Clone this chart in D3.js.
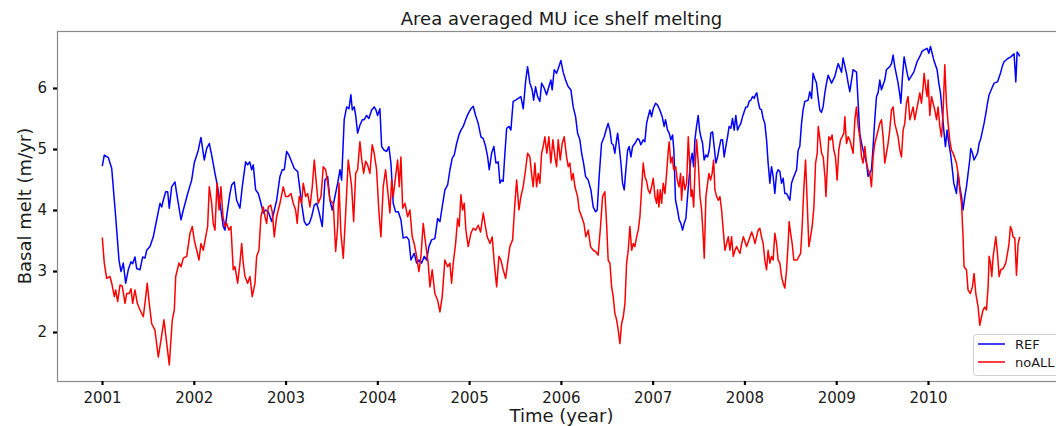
<!DOCTYPE html>
<html>
<head>
<meta charset="utf-8">
<script src="https://cdn.jsdelivr.net/npm/d3@7"></script>
<style>
  body { margin: 0; background: #fff; }
  text { font-family: "DejaVu Sans", sans-serif; }
</style>
</head>
<body>
<svg id="chart"></svg>
<script>
// Series (decimal year, basal melt in m/yr)
const refYear = [2001.003, 2001.025, 2001.069, 2001.106, 2001.149, 2001.185, 2001.207, 2001.232, 2001.258, 2001.286, 2001.316, 2001.334, 2001.359, 2001.378, 2001.414, 2001.443, 2001.468, 2001.487, 2001.523, 2001.559, 2001.596, 2001.632, 2001.650, 2001.668, 2001.694, 2001.716, 2001.733, 2001.759, 2001.795, 2001.814, 2001.861, 2001.886, 2001.934, 2001.977,
  2002.005, 2002.049, 2002.078, 2002.093, 2002.114, 2002.141, 2002.169, 2002.195, 2002.231, 2002.260, 2002.296, 2002.321, 2002.340, 2002.358, 2002.394, 2002.413, 2002.441, 2002.467, 2002.503, 2002.528, 2002.565, 2002.587, 2002.609, 2002.631, 2002.648, 2002.674, 2002.703, 2002.732, 2002.757, 2002.783, 2002.812, 2002.849, 2002.903, 2002.939, 2002.964, 2002.986,
  2003.012, 2003.037, 2003.066, 2003.095, 2003.132, 2003.157, 2003.175, 2003.204, 2003.230, 2003.258, 2003.284, 2003.313, 2003.339, 2003.364, 2003.400, 2003.429, 2003.459, 2003.484, 2003.509, 2003.538, 2003.568, 2003.593, 2003.611, 2003.639, 2003.666, 2003.691, 2003.712, 2003.727, 2003.748, 2003.764, 2003.785, 2003.810, 2003.836, 2003.857, 2003.883, 2003.908, 2003.938, 2003.966, 2003.985,
  2004.003, 2004.028, 2004.047, 2004.075, 2004.101, 2004.126, 2004.148, 2004.173, 2004.199, 2004.228, 2004.257, 2004.282, 2004.319, 2004.344, 2004.366, 2004.402, 2004.428, 2004.453, 2004.483, 2004.511, 2004.537, 2004.562, 2004.591, 2004.627, 2004.657, 2004.682, 2004.707, 2004.736, 2004.766, 2004.791, 2004.816, 2004.838, 2004.864, 2004.889, 2004.911, 2004.936, 2004.962, 2004.990,
  2005.020, 2005.045, 2005.071, 2005.099, 2005.129, 2005.154, 2005.180, 2005.202, 2005.219, 2005.245, 2005.270, 2005.292, 2005.317, 2005.336, 2005.354, 2005.371, 2005.390, 2005.409, 2005.434, 2005.455, 2005.480, 2005.507, 2005.535, 2005.564, 2005.590, 2005.615, 2005.637, 2005.662, 2005.687, 2005.703, 2005.724, 2005.746, 2005.771, 2005.790, 2005.818, 2005.844, 2005.869, 2005.891, 2005.905, 2005.927, 2005.953, 2005.978,
  2006.000, 2006.025, 2006.051, 2006.080, 2006.109, 2006.134, 2006.160, 2006.182, 2006.207, 2006.226, 2006.247, 2006.269, 2006.298, 2006.327, 2006.352, 2006.378, 2006.396, 2006.417, 2006.443, 2006.472, 2006.498, 2006.515, 2006.534, 2006.553, 2006.570, 2006.588, 2006.607, 2006.618, 2006.632, 2006.654, 2006.672, 2006.690, 2006.708, 2006.727, 2006.744, 2006.763, 2006.781, 2006.806, 2006.836, 2006.853, 2006.871, 2006.897, 2006.915, 2006.934, 2006.951, 2006.970, 2006.988,
  2007.006, 2007.032, 2007.053, 2007.078, 2007.104, 2007.125, 2007.140, 2007.162, 2007.180, 2007.198, 2007.217, 2007.231, 2007.249, 2007.271, 2007.289, 2007.307, 2007.326, 2007.343, 2007.362, 2007.380, 2007.398, 2007.416, 2007.430, 2007.446, 2007.460, 2007.478, 2007.496, 2007.511, 2007.525, 2007.544, 2007.561, 2007.580, 2007.598, 2007.616, 2007.634, 2007.653, 2007.670, 2007.689, 2007.707, 2007.724, 2007.743, 2007.761, 2007.779, 2007.797, 2007.816, 2007.833, 2007.852, 2007.870, 2007.888, 2007.906, 2007.925, 2007.942, 2007.961, 2007.979, 2007.997,
  2008.015, 2008.034, 2008.051, 2008.070, 2008.088, 2008.106, 2008.121, 2008.135, 2008.149, 2008.168, 2008.186, 2008.204, 2008.222, 2008.241, 2008.258, 2008.277, 2008.295, 2008.313, 2008.331, 2008.350, 2008.367, 2008.386, 2008.404, 2008.422, 2008.440, 2008.459, 2008.476, 2008.495, 2008.513, 2008.531, 2008.568, 2008.585, 2008.603, 2008.622, 2008.639, 2008.658, 2008.694, 2008.712, 2008.731, 2008.748, 2008.767, 2008.785, 2008.802, 2008.821, 2008.839, 2008.857, 2008.876, 2008.894, 2008.912, 2008.949, 2008.985,
  2009.003, 2009.021, 2009.058, 2009.075, 2009.112, 2009.130, 2009.148, 2009.167, 2009.184, 2009.221, 2009.239, 2009.257, 2009.276, 2009.293, 2009.312, 2009.330, 2009.347, 2009.384, 2009.402, 2009.420, 2009.439, 2009.456, 2009.475, 2009.493, 2009.529, 2009.547, 2009.583, 2009.602, 2009.620, 2009.638, 2009.674, 2009.693, 2009.704, 2009.722, 2009.740, 2009.773, 2009.791, 2009.845, 2009.864, 2009.881, 2009.918, 2009.936, 2009.954, 2009.990,
  2010.009, 2010.027, 2010.063, 2010.099, 2010.118, 2010.136, 2010.153, 2010.172, 2010.190, 2010.208, 2010.227, 2010.245, 2010.262, 2010.281, 2010.310, 2010.328, 2010.346, 2010.365, 2010.382, 2010.401, 2010.419, 2010.455, 2010.466, 2010.485, 2010.502, 2010.539, 2010.557, 2010.575, 2010.611, 2010.630, 2010.648, 2010.666, 2010.703, 2010.720, 2010.757, 2010.793, 2010.812, 2010.829, 2010.866, 2010.902, 2010.938, 2010.957, 2010.971, 2010.986, 2011.000];
const refMelt = [4.72, 4.90, 4.86, 4.68, 3.89, 3.18, 2.99, 3.13, 2.80, 3.02, 3.15, 3.12, 3.23, 3.04, 3.02, 3.23, 3.21, 3.34, 3.40, 3.56, 3.84, 4.11, 4.05, 4.16, 4.30, 4.30, 4.03, 4.38, 4.46, 4.27, 3.84, 4.00, 4.27, 4.49,
  4.77, 4.98, 5.19, 5.04, 4.82, 5.01, 5.09, 4.90, 4.60, 4.38, 4.00, 3.73, 3.67, 3.89, 4.27, 4.41, 4.46, 4.16, 4.03, 4.38, 4.79, 4.74, 4.79, 4.66, 4.74, 4.33, 4.27, 4.11, 3.95, 4.00, 3.97, 3.81, 4.16, 4.55, 4.66, 4.66,
  4.96, 4.90, 4.79, 4.68, 4.63, 4.33, 4.11, 3.81, 3.75, 3.78, 3.89, 4.08, 4.11, 3.97, 3.73, 4.49, 4.55, 4.16, 4.00, 4.22, 4.44, 4.66, 4.49, 5.48, 5.69, 5.66, 5.89, 5.64, 5.69, 5.55, 5.26, 5.39, 5.48, 5.48, 5.55, 5.50, 5.64, 5.69, 5.64,
  5.55, 5.66, 5.04, 4.98, 4.96, 5.04, 4.77, 4.11, 3.97, 3.97, 3.84, 3.54, 3.56, 3.51, 3.18, 3.29, 3.13, 3.18, 3.13, 3.24, 3.18, 3.40, 3.51, 3.53, 3.86, 3.81, 4.05, 4.33, 4.41, 4.66, 4.85, 4.90, 5.09, 5.23, 5.31, 5.37, 5.48, 5.58,
  5.66, 5.70, 5.55, 5.42, 5.20, 5.17, 5.04, 4.87, 4.66, 4.93, 5.04, 4.77, 4.79, 4.44, 4.49, 4.47, 4.93, 5.34, 5.37, 5.31, 5.78, 5.80, 5.83, 5.86, 5.66, 6.10, 6.35, 6.08, 5.97, 5.80, 6.02, 5.86, 5.78, 6.08, 6.00, 5.89, 6.02, 6.13, 5.97, 6.30, 6.24, 6.35,
  6.45, 6.26, 6.13, 6.02, 5.97, 5.69, 5.53, 5.26, 5.15, 4.93, 4.77, 4.55, 4.49, 4.33, 4.05, 3.97, 4.00, 4.55, 5.09, 5.20, 5.34, 5.42, 5.31, 5.09, 5.07, 4.93, 5.15, 5.26, 5.09, 4.77, 4.44, 4.33, 4.66, 4.98, 5.04, 4.87, 5.04, 5.09, 5.17, 5.15, 5.07, 5.15, 5.12, 5.42, 5.53, 5.64, 5.53,
  5.66, 5.75, 5.72, 5.64, 5.53, 5.37, 5.48, 5.31, 5.26, 5.15, 5.23, 4.98, 4.16, 4.00, 3.84, 3.78, 3.67, 3.78, 3.86, 4.22, 4.55, 4.82, 4.93, 4.71, 5.15, 5.37, 5.55, 5.31, 5.20, 5.09, 4.82, 4.90, 4.87, 4.98, 5.26, 5.28, 5.04, 4.77, 4.87, 5.01, 5.15, 5.15, 4.87, 5.04, 5.20, 5.37, 5.34, 5.50, 5.31, 5.55, 5.31, 5.37, 5.42, 5.53, 5.61,
  5.69, 5.69, 5.78, 5.80, 5.86, 5.83, 5.89, 5.92, 5.78, 5.66, 5.64, 5.50, 5.42, 5.15, 4.77, 4.44, 4.71, 4.55, 4.27, 4.60, 4.66, 4.63, 4.44, 4.52, 4.27, 4.27, 4.22, 4.16, 4.44, 4.52, 4.66, 4.98, 5.04, 5.42, 5.64, 5.78, 5.80, 5.94, 5.83, 6.24, 6.15, 6.08, 5.86, 5.64, 5.60, 5.69, 5.92, 6.08, 6.21, 6.08, 6.19,
  6.30, 6.40, 6.26, 6.49, 6.24, 6.08, 5.94, 6.13, 6.30, 6.26, 5.75, 5.26, 5.09, 4.98, 4.87, 4.77, 4.55, 4.66, 5.04, 5.48, 5.86, 5.92, 6.13, 5.97, 6.13, 6.30, 6.35, 6.40, 6.54, 6.35, 6.08, 5.89, 5.75, 6.19, 6.51, 6.24, 6.13, 6.26, 6.35, 6.43, 6.54, 6.60, 6.62, 6.65,
  6.57, 6.68, 6.46, 6.30, 6.08, 5.92, 5.64, 5.31, 5.04, 5.31, 5.09, 4.93, 4.71, 4.44, 4.27, 4.60, 4.38, 4.22, 4.00, 4.22, 4.38, 4.82, 5.01, 4.93, 4.82, 4.93, 5.09, 5.17, 5.42, 5.58, 5.75, 5.89, 6.02, 6.08, 6.10, 6.26, 6.37, 6.43, 6.48, 6.51, 6.56, 6.10, 6.59, 6.56, 6.52];

const noallYear = [2001.003, 2001.025, 2001.051, 2001.087, 2001.106, 2001.134, 2001.149, 2001.171, 2001.196, 2001.221, 2001.251, 2001.269, 2001.297, 2001.316, 2001.334, 2001.359, 2001.385, 2001.414, 2001.450, 2001.468, 2001.493, 2001.515, 2001.541, 2001.577, 2001.613, 2001.643, 2001.675, 2001.697, 2001.733, 2001.766, 2001.788, 2001.803, 2001.839, 2001.861, 2001.886, 2001.923, 2001.959, 2001.984,
  2002.005, 2002.032, 2002.057, 2002.078, 2002.103, 2002.130, 2002.151, 2002.169, 2002.195, 2002.212, 2002.231, 2002.253, 2002.275, 2002.296, 2002.318, 2002.340, 2002.358, 2002.383, 2002.405, 2002.430, 2002.449, 2002.478, 2002.503, 2002.522, 2002.539, 2002.558, 2002.587, 2002.612, 2002.637, 2002.667, 2002.685, 2002.710, 2002.732, 2002.757, 2002.776, 2002.794, 2002.812, 2002.838, 2002.855, 2002.877, 2002.903, 2002.939, 2002.975,
  2003.001, 2003.029, 2003.059, 2003.084, 2003.110, 2003.127, 2003.149, 2003.175, 2003.193, 2003.219, 2003.241, 2003.266, 2003.291, 2003.313, 2003.339, 2003.356, 2003.386, 2003.411, 2003.437, 2003.459, 2003.484, 2003.520, 2003.546, 2003.568, 2003.582, 2003.603, 2003.629, 2003.655, 2003.683, 2003.702, 2003.720, 2003.742, 2003.764, 2003.785, 2003.810, 2003.829, 2003.851, 2003.873, 2003.894, 2003.919, 2003.944, 2003.966, 2003.992,
  2004.017, 2004.039, 2004.064, 2004.090, 2004.112, 2004.137, 2004.156, 2004.173, 2004.199, 2004.221, 2004.239, 2004.257, 2004.276, 2004.301, 2004.330, 2004.355, 2004.380, 2004.402, 2004.428, 2004.453, 2004.475, 2004.500, 2004.526, 2004.554, 2004.573, 2004.598, 2004.627, 2004.657, 2004.682, 2004.707, 2004.736, 2004.766, 2004.791, 2004.809, 2004.827, 2004.853, 2004.875, 2004.892, 2004.911, 2004.929, 2004.947, 2004.965, 2004.990,
  2005.020, 2005.045, 2005.071, 2005.099, 2005.125, 2005.154, 2005.172, 2005.197, 2005.227, 2005.252, 2005.274, 2005.300, 2005.325, 2005.346, 2005.371, 2005.398, 2005.420, 2005.444, 2005.474, 2005.499, 2005.518, 2005.543, 2005.564, 2005.589, 2005.615, 2005.637, 2005.662, 2005.680, 2005.698, 2005.717, 2005.735, 2005.753, 2005.771, 2005.790, 2005.807, 2005.826, 2005.847, 2005.869, 2005.891, 2005.913, 2005.935, 2005.953, 2005.971, 2005.993,
  2006.014, 2006.036, 2006.062, 2006.080, 2006.098, 2006.117, 2006.134, 2006.153, 2006.182, 2006.199, 2006.226, 2006.251, 2006.272, 2006.298, 2006.323, 2006.352, 2006.378, 2006.406, 2006.432, 2006.454, 2006.479, 2006.498, 2006.515, 2006.534, 2006.553, 2006.570, 2006.588, 2006.607, 2006.625, 2006.643, 2006.662, 2006.680, 2006.698, 2006.716, 2006.734, 2006.752, 2006.771, 2006.789, 2006.806, 2006.825, 2006.843, 2006.861, 2006.879, 2006.897, 2006.915, 2006.934, 2006.951, 2006.970, 2006.988,
  2007.006, 2007.025, 2007.043, 2007.054, 2007.068, 2007.083, 2007.098, 2007.115, 2007.134, 2007.152, 2007.170, 2007.181, 2007.196, 2007.213, 2007.229, 2007.251, 2007.268, 2007.287, 2007.304, 2007.315, 2007.333, 2007.351, 2007.370, 2007.388, 2007.407, 2007.418, 2007.431, 2007.447, 2007.461, 2007.479, 2007.497, 2007.516, 2007.533, 2007.551, 2007.562, 2007.580, 2007.594, 2007.613, 2007.631, 2007.648, 2007.664, 2007.678, 2007.697, 2007.715, 2007.733, 2007.751, 2007.769, 2007.787, 2007.806, 2007.824, 2007.842, 2007.860, 2007.878, 2007.897, 2007.915, 2007.933, 2007.951, 2007.970, 2007.988,
  2008.024, 2008.061, 2008.079, 2008.097, 2008.115, 2008.149, 2008.168, 2008.186, 2008.204, 2008.222, 2008.241, 2008.258, 2008.277, 2008.295, 2008.313, 2008.331, 2008.350, 2008.367, 2008.386, 2008.404, 2008.422, 2008.440, 2008.459, 2008.476, 2008.487, 2008.503, 2008.520, 2008.538, 2008.574, 2008.612, 2008.629, 2008.648, 2008.666, 2008.684, 2008.702, 2008.720, 2008.738, 2008.757, 2008.775, 2008.793, 2008.804, 2008.823, 2008.841, 2008.858, 2008.877, 2008.888, 2008.905, 2008.919, 2008.938, 2008.955, 2008.974, 2008.992,
  2009.010, 2009.028, 2009.047, 2009.064, 2009.083, 2009.094, 2009.112, 2009.130, 2009.148, 2009.184, 2009.203, 2009.221, 2009.239, 2009.257, 2009.276, 2009.293, 2009.312, 2009.330, 2009.347, 2009.366, 2009.384, 2009.402, 2009.420, 2009.439, 2009.475, 2009.493, 2009.511, 2009.529, 2009.547, 2009.565, 2009.583, 2009.602, 2009.620, 2009.638, 2009.656, 2009.674, 2009.693, 2009.711, 2009.729, 2009.747, 2009.765, 2009.783, 2009.802, 2009.838, 2009.856, 2009.911, 2009.929, 2009.947, 2009.958, 2009.974, 2009.990,
  2010.001, 2010.020, 2010.038, 2010.074, 2010.093, 2010.110, 2010.129, 2010.147, 2010.164, 2010.183, 2010.201, 2010.219, 2010.237, 2010.256, 2010.274, 2010.310, 2010.328, 2010.346, 2010.365, 2010.382, 2010.393, 2010.419, 2010.436, 2010.462, 2010.484, 2010.502, 2010.521, 2010.546, 2010.564, 2010.583, 2010.600, 2010.619, 2010.637, 2010.655, 2010.666, 2010.681, 2010.695, 2010.710, 2010.739, 2010.757, 2010.775, 2010.793, 2010.818, 2010.847, 2010.866, 2010.883, 2010.898, 2010.913, 2010.927, 2010.946, 2010.964, 2010.982, 2011.000];
const noallMelt = [3.55, 3.13, 2.88, 2.91, 2.80, 2.58, 2.69, 2.50, 2.77, 2.75, 2.47, 2.63, 2.63, 2.71, 2.47, 2.69, 2.47, 2.36, 2.25, 2.47, 2.80, 2.47, 2.14, 2.03, 1.59, 1.87, 2.20, 1.92, 1.46, 2.20, 2.36, 2.91, 3.13, 3.07, 3.21, 3.24, 3.62, 3.73,
  3.51, 3.34, 3.18, 3.45, 3.34, 3.56, 3.73, 4.38, 4.11, 3.78, 3.67, 4.44, 4.00, 4.38, 3.89, 3.73, 3.78, 3.67, 3.73, 3.02, 3.07, 2.80, 3.13, 3.45, 3.13, 2.91, 2.80, 2.91, 2.58, 2.80, 3.24, 3.34, 3.89, 4.05, 3.89, 3.78, 4.05, 4.08, 3.97, 3.56, 3.89, 4.11, 4.38,
  4.22, 4.22, 4.27, 4.11, 4.00, 3.78, 4.22, 4.11, 4.44, 4.22, 4.27, 4.05, 4.38, 4.82, 4.38, 4.11, 4.22, 4.71, 4.66, 4.44, 4.16, 4.11, 3.32, 3.73, 4.44, 3.62, 3.21, 3.95, 4.82, 4.60, 4.38, 3.81, 4.60, 4.66, 5.12, 4.84, 4.60, 4.80, 4.74, 4.60, 5.07, 4.93, 4.66,
  3.97, 3.56, 4.38, 4.66, 4.33, 3.95, 4.49, 4.22, 4.55, 4.82, 4.38, 4.87, 4.03, 4.11, 3.89, 4.00, 3.56, 3.45, 3.24, 2.99, 3.24, 3.78, 3.45, 3.13, 2.74, 3.02, 2.63, 2.52, 2.33, 2.58, 3.18, 3.07, 3.13, 2.80, 3.13, 3.45, 3.86, 3.73, 4.25, 4.00, 4.11, 3.67, 3.40,
  3.62, 3.70, 3.67, 3.75, 3.64, 3.95, 3.78, 3.56, 3.45, 3.56, 3.13, 2.74, 3.24, 3.18, 3.02, 2.88, 3.13, 3.40, 3.51, 4.11, 4.49, 4.00, 4.22, 4.38, 4.66, 4.93, 4.87, 4.60, 4.38, 4.77, 4.38, 4.60, 4.44, 4.93, 5.04, 5.20, 4.93, 5.20, 4.77, 5.15, 4.87, 4.71, 5.15, 4.82,
  5.09, 5.20, 4.87, 4.71, 4.77, 4.49, 4.60, 4.38, 4.22, 4.00, 3.89, 3.78, 3.56, 3.67, 3.40, 3.34, 3.32, 3.26, 3.73, 4.22, 4.30, 3.78, 3.18, 3.13, 2.74, 2.58, 2.31, 2.20, 2.03, 1.81, 2.14, 2.25, 2.47, 3.13, 3.34, 3.73, 3.34, 3.45, 3.40, 3.56, 3.67, 3.89, 4.33, 4.77, 4.55, 4.47, 4.33, 4.27, 4.38,
  4.52, 4.22, 4.11, 4.33, 4.05, 4.33, 4.11, 4.44, 4.27, 4.60, 4.98, 5.12, 4.77, 4.87, 4.66, 4.71, 4.49, 4.38, 4.60, 4.16, 4.55, 4.33, 4.44, 5.20, 4.66, 4.22, 4.33, 4.05, 4.66, 5.15, 4.77, 4.22, 4.00, 3.56, 3.21, 4.22, 4.38, 4.60, 4.49, 4.60, 4.82, 4.33, 4.22, 4.16, 4.22, 4.00, 3.67, 3.34, 3.45, 3.56, 3.34, 3.56, 3.24, 3.34, 3.40, 3.34, 3.29, 3.45, 3.56,
  3.40, 3.56, 3.64, 3.56, 3.45, 3.67, 3.70, 3.56, 3.45, 3.18, 3.02, 3.34, 3.13, 3.24, 3.18, 3.62, 3.45, 3.18, 3.13, 2.91, 2.80, 2.72, 3.02, 3.45, 3.81, 3.62, 3.45, 3.18, 3.18, 3.29, 3.73, 4.38, 4.82, 4.11, 3.40, 3.56, 3.73, 4.05, 4.77, 4.93, 5.37, 5.15, 4.93, 4.87, 4.55, 4.22, 4.77, 5.20, 5.15, 5.23, 4.98, 4.87,
  4.49, 4.98, 5.15, 5.20, 5.26, 5.53, 5.09, 5.20, 5.15, 4.93, 5.48, 5.69, 5.37, 5.20, 4.87, 4.77, 5.04, 4.77, 4.66, 4.60, 4.38, 4.87, 5.09, 5.20, 5.42, 5.48, 5.20, 4.77, 4.93, 5.09, 5.31, 5.64, 5.69, 5.42, 5.31, 5.20, 4.98, 4.87, 5.31, 5.42, 5.75, 5.86, 5.48, 5.69, 5.48, 5.92, 5.75, 6.02, 6.24, 6.02, 5.86,
  6.13, 5.55, 5.86, 5.64, 5.48, 5.69, 5.37, 5.20, 5.58, 6.38, 5.75, 5.42, 5.15, 4.98, 4.93, 4.77, 4.60, 4.33, 4.11, 3.56, 3.07, 3.02, 2.69, 2.63, 2.74, 2.96, 2.63, 2.41, 2.11, 2.25, 2.36, 2.41, 2.36, 2.74, 3.24, 3.13, 2.91, 3.24, 3.56, 3.29, 2.91, 3.02, 3.04, 3.13, 3.29, 3.45, 3.73, 3.67, 3.56, 3.54, 2.93, 3.45, 3.56];

const xTicks = [2001, 2002, 2003, 2004, 2005, 2006, 2007, 2008, 2009, 2010];
const yTicks = [2, 3, 4, 5, 6];

const width = 1056;
const height = 426;
const plotLeft = 57, plotTop = 31, plotRight = 1066, plotBottom = 381;

const x = d3.scaleLinear().domain([2001, 2010]).range([102, 928]);
const y = d3.scaleLinear().domain([2, 6]).range([332, 88]);

const svg = d3.select("#chart")
    .attr("width", width)
    .attr("height", height);

svg.append("rect").attr("width", width).attr("height", height).attr("fill", "#fff");

// Lines
const line = d3.line()
    .x(d => x(d[0]))
    .y(d => y(d[1]));

const refData = d3.zip(refYear, refMelt);
const noallData = d3.zip(noallYear, noallMelt);

svg.append("path")
    .datum(refData)
    .attr("fill", "none")
    .attr("stroke", "blue")
    .attr("stroke-width", 1.5)
    .attr("stroke-linejoin", "round")
    .attr("d", line);

svg.append("path")
    .datum(noallData)
    .attr("fill", "none")
    .attr("stroke", "red")
    .attr("stroke-width", 1.5)
    .attr("stroke-linejoin", "round")
    .attr("d", line);

// Frame (right side falls outside the picture)
svg.append("rect")
    .attr("x", plotLeft + 0.5)
    .attr("y", plotTop + 0.5)
    .attr("width", plotRight - plotLeft)
    .attr("height", plotBottom - plotTop)
    .attr("fill", "none")
    .attr("stroke", "#8a8a8a")
    .attr("stroke-width", 1.2);

// Axes
const xAxis = svg.append("g")
    .attr("transform", `translate(0, ${plotBottom})`)
    .call(d3.axisBottom(x).tickValues(xTicks).tickFormat(d3.format("d")).tickSize(4).tickPadding(7));

const yAxis = svg.append("g")
    .attr("transform", `translate(${plotLeft}, 0)`)
    .call(d3.axisLeft(y).tickValues(yTicks).tickFormat(d3.format("d")).tickSize(4).tickPadding(6));

[xAxis, yAxis].forEach(g => {
    g.select(".domain").remove();
    g.selectAll(".tick line").attr("stroke", "#000").attr("stroke-width", 2.2);
    g.selectAll(".tick text")
        .attr("fill", "#1a1a1a")
        .style("font-family", "DejaVu Sans")
        .style("font-size", "15px");
});

// Title and labels
svg.append("text")
    .attr("x", (plotLeft + plotRight) / 2)
    .attr("y", 25)
    .attr("text-anchor", "middle")
    .attr("fill", "#1a1a1a")
    .style("font-size", "18px")
    .text("Area averaged MU ice shelf melting");

svg.append("text")
    .attr("x", (plotLeft + plotRight) / 2)
    .attr("y", 422)
    .attr("text-anchor", "middle")
    .attr("fill", "#1a1a1a")
    .style("font-size", "18px")
    .text("Time (year)");

svg.append("text")
    .attr("transform", `translate(31, ${(plotTop + plotBottom) / 2}) rotate(-90)`)
    .attr("text-anchor", "middle")
    .attr("fill", "#1a1a1a")
    .style("font-size", "18px")
    .text("Basal melt (m/yr)");

// Legend
const legend = svg.append("g").attr("transform", "translate(973, 334)");

legend.append("rect")
    .attr("x", 0.5)
    .attr("y", 0.5)
    .attr("width", 95)
    .attr("height", 41)
    .attr("rx", 3)
    .attr("fill", "#fff")
    .attr("fill-opacity", 0.8)
    .attr("stroke", "#d0d0d0");

const entries = [["REF", "blue"], ["noALL", "red"]];
entries.forEach(([name, color], i) => {
    legend.append("line")
        .attr("x1", 5).attr("x2", 32)
        .attr("y1", 10 + i * 18).attr("y2", 10 + i * 18)
        .attr("stroke", color)
        .attr("stroke-width", 1.5);
    legend.append("text")
        .attr("x", 42)
        .attr("y", 15 + i * 18)
        .attr("fill", "#1a1a1a")
        .style("font-size", "13px")
        .text(name);
});
</script>
</body>
</html>
